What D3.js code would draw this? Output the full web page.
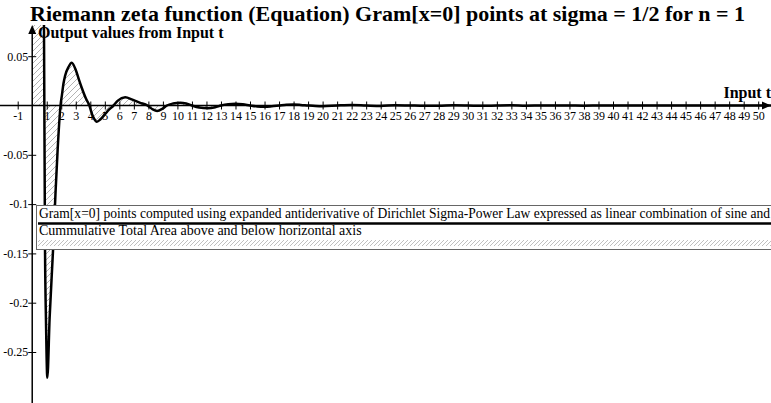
<!DOCTYPE html>
<html>
<head>
<meta charset="utf-8">
<script src="https://cdn.jsdelivr.net/npm/d3@7"></script>
<style>
  body { margin: 0; background: #fff; }
  svg { display: block; }
</style>
</head>
<body>
<svg></svg>
<script>
// input t values and output values
var tValues = [0, 0.78, 0.81, 0.88, 0.95, 1.04, 1.2, 1.45, 1.6, 1.75, 1.95, 2.05, 2.15, 2.26, 2.5, 2.72,
   3.0, 3.2, 3.41, 3.7, 3.94, 4.1, 4.25, 4.45, 4.7, 5.0, 5.3, 5.6, 5.9, 6.4, 6.9, 7.4, 7.94,
   8.3, 8.6, 9.0, 9.28, 9.7, 10.2, 10.6, 11.0, 11.5, 12.1, 12.6, 13.0, 13.5, 14.0, 14.5, 15.0,
   15.5, 16.0, 16.5, 17.0, 17.5, 18.0, 18.5, 19, 19.5, 20, 21, 22, 23, 24, 25, 26, 27, 28, 29,
   30, 31, 32, 33, 34, 35, 36, 37, 38, 39, 40, 41, 42, 43, 44, 45, 46, 47, 48, 49, 50, 51];
var outputValues = [0.6, 0.2, 0.078, -0.142, -0.22, -0.276, -0.215, -0.142, -0.09, -0.045, 0, 0.011, 0.022, 0.03, 0.039, 0.0434,
   0.036, 0.027, 0.018, 0.007, 0, -0.008, -0.013, -0.0164, -0.014, -0.009, -0.004, 0, 0.005, 0.0083, 0.006, 0.003, 0,
   -0.004, -0.0056, -0.003, 0, 0.002, 0.0028, 0.002, 0, -0.002, -0.0028, -0.0018, 0, 0.0014, 0.0018, 0.0012, 0,
   -0.001, -0.0013, -0.0008, 0, 0.0008, 0.001, 0.0006, 0, -0.0005, -0.0007, 0, 0.0005, 0, -0.0004, 0.0003, 0, -0.0003, -0.0003, 0.0002,
   0, -0.0003, 0, 0.0002, -0.0002, 0, 0.0001, 0, -0.0002, 0, 0.0001, 0, -0.0001, 0, 0.0001, 0, -0.0001, 0, 0.0001, 0, 0, 0];

var xTicks = [-1, 1, 2, 3, 4, 5, 6, 7, 8, 9, 10, 11, 12, 13, 14, 15, 16, 17, 18, 19, 20, 21, 22, 23, 24, 25,
   26, 27, 28, 29, 30, 31, 32, 33, 34, 35, 36, 37, 38, 39, 40, 41, 42, 43, 44, 45, 46, 47, 48, 49, 50];
var yTicks = [0.05, -0.05, -0.1, -0.15, -0.2, -0.25];

var titleText = "Riemann zeta function (Equation) Gram[x=0] points at sigma = 1/2 for n = 1";
var legendLabels = [
   "Gram[x=0] points computed using expanded antiderivative of Dirichlet Sigma-Power Law expressed as linear combination of sine and",
   "Cummulative Total Area above and below horizontal axis"
];

var svgWidth = 771, svgHeight = 403;
var serif = "'Liberation Serif','Times New Roman',serif";

var svg = d3.select("svg")
   .attr("width", svgWidth)
   .attr("height", svgHeight);

var x = d3.scaleLinear().domain([-1, 50]).range([17.7, 758.2]);
var y = d3.scaleLinear().domain([-0.25, 0.05]).range([352, 56.2]);

var points = tValues.map(function(t, i) { return {t: t, v: outputValues[i]}; });

var defs = svg.append("defs");
defs.append("pattern")
   .attr("id", "hatch")
   .attr("patternUnits", "userSpaceOnUse")
   .attr("width", 6).attr("height", 6)
   .append("path")
   .attr("d", "M0,6 L6,0 M-1,1 L1,-1 M5,7 L7,5")
   .attr("stroke", "#a0a0a0")
   .attr("stroke-width", 0.8);
defs.append("pattern")
   .attr("id", "hatchSmall")
   .attr("patternUnits", "userSpaceOnUse")
   .attr("width", 4).attr("height", 4)
   .append("path")
   .attr("d", "M0,4 L4,0 M-1,1 L1,-1 M3,5 L5,3")
   .attr("stroke", "#b0b0b0")
   .attr("stroke-width", 0.8);
defs.append("clipPath")
   .attr("id", "plotClip")
   .append("rect")
   .attr("x", 0).attr("y", 25)
   .attr("width", svgWidth).attr("height", svgHeight - 25);

var plot = svg.append("g").attr("clip-path", "url(#plotClip)");

var area = d3.area()
   .x(function(d) { return x(d.t); })
   .y0(y(0))
   .y1(function(d) { return y(d.v); })
   .curve(d3.curveMonotoneX);

plot.append("path")
   .datum(points)
   .attr("d", area)
   .attr("fill", "url(#hatch)");

// axes
var xAxis = svg.append("g")
   .attr("transform", "translate(0," + y(0) + ")")
   .call(d3.axisBottom(x).tickValues(xTicks).tickSize(4).tickPadding(2)
      .tickFormat(function(d) { return String(d); }));
xAxis.select(".domain").remove();
xAxis.selectAll(".tick line").attr("y1", -4).attr("y2", 4).attr("stroke", "#000");
xAxis.selectAll("text")
   .attr("font-family", serif)
   .attr("font-size", 12)
   .attr("fill", "#000");

var yAxis = svg.append("g")
   .attr("transform", "translate(" + x(0) + ",0)")
   .call(d3.axisLeft(y).tickValues(yTicks).tickSize(4).tickPadding(0)
      .tickFormat(function(d) { return String(d); }));
yAxis.select(".domain").remove();
yAxis.selectAll(".tick line").attr("x1", -4).attr("x2", 4).attr("stroke", "#000");
yAxis.selectAll("text")
   .attr("font-family", serif)
   .attr("font-size", 12)
   .attr("fill", "#000");

svg.append("line")
   .attr("x1", 0).attr("x2", 764)
   .attr("y1", y(0)).attr("y2", y(0))
   .attr("stroke", "#000").attr("stroke-width", 1.5);
svg.append("path")
   .attr("d", "M771," + y(0) + " L762," + (y(0) - 4) + " L762," + (y(0) + 4) + "Z")
   .attr("fill", "#000");

svg.append("line")
   .attr("x1", x(0)).attr("x2", x(0))
   .attr("y1", 32).attr("y2", svgHeight)
   .attr("stroke", "#000").attr("stroke-width", 1.5);
svg.append("path")
   .attr("d", "M" + x(0) + ",25 L" + (x(0) - 4) + ",34 L" + (x(0) + 4) + ",34Z")
   .attr("fill", "#000");

var line = d3.line()
   .x(function(d) { return x(d.t); })
   .y(function(d) { return y(d.v); })
   .curve(d3.curveMonotoneX);

plot.append("path")
   .datum(points)
   .attr("d", line)
   .attr("fill", "none")
   .attr("stroke", "#000")
   .attr("stroke-width", 2.5)
   .attr("stroke-linejoin", "round");

// titles
svg.append("text")
   .attr("x", 30).attr("y", 21)
   .attr("font-family", serif)
   .attr("font-size", 22)
   .attr("font-weight", "bold")
   .text(titleText);

svg.append("text")
   .attr("x", 38).attr("y", 38)
   .attr("font-family", serif)
   .attr("font-size", 16)
   .attr("font-weight", "bold")
   .text("Output values from Input t");

svg.append("text")
   .attr("x", 771).attr("y", 98)
   .attr("text-anchor", "end")
   .attr("font-family", serif)
   .attr("font-size", 16)
   .attr("font-weight", "bold")
   .text("Input t");

// legend
var legend = svg.append("g");
legend.append("rect")
   .attr("x", 36.5).attr("y", 205.5)
   .attr("width", 800).attr("height", 44)
   .attr("fill", "#fff")
   .attr("stroke", "#666");
legend.append("text")
   .attr("x", 39).attr("y", 218)
   .attr("font-family", serif)
   .attr("font-size", 14)
   .attr("textLength", 731)
   .attr("lengthAdjust", "spacingAndGlyphs")
   .text(legendLabels[0]);
legend.append("line")
   .attr("x1", 38).attr("x2", 800)
   .attr("y1", 223.5).attr("y2", 223.5)
   .attr("stroke", "#000").attr("stroke-width", 2.5);
legend.append("text")
   .attr("x", 39).attr("y", 235)
   .attr("font-family", serif)
   .attr("font-size", 14)
   .text(legendLabels[1]);
legend.append("rect")
   .attr("x", 38).attr("y", 240)
   .attr("width", 800).attr("height", 6)
   .attr("fill", "url(#hatchSmall)");
</script>
</body>
</html>
